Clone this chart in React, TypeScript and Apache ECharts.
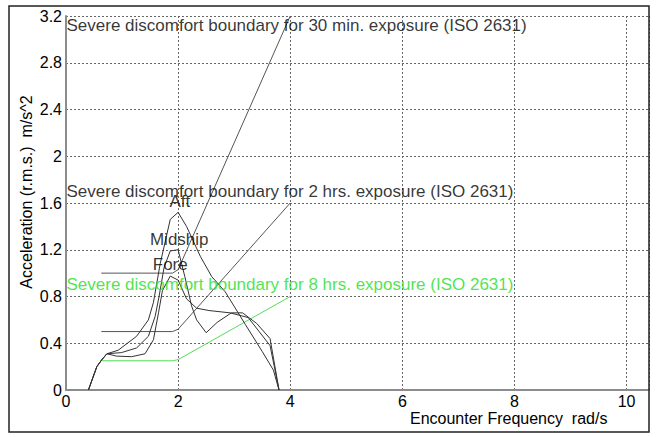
import React, { useEffect, useRef } from "react";
import * as echarts from "echarts";

// Response curves (x: encounter frequency rad/s, y: acceleration r.m.s. m/s^2)
const fore: [number, number][] = [
  [0.4, 0], [0.55, 0.2], [0.64, 0.26], [0.73, 0.31], [0.9, 0.29], [1.17, 0.285],
  [1.41, 0.31], [1.56, 0.43], [1.65, 0.66], [1.72, 0.85], [1.86, 0.975], [2.0, 0.94],
  [2.15, 0.78], [2.33, 0.7], [2.55, 0.68], [2.93, 0.66], [3.25, 0.62], [3.64, 0.38], [3.8, 0],
];
const midship: [number, number][] = [
  [0.4, 0], [0.55, 0.2], [0.64, 0.26], [0.73, 0.31], [0.99, 0.32], [1.26, 0.36],
  [1.47, 0.46], [1.59, 0.63], [1.66, 0.8], [1.75, 1.05], [1.86, 1.19], [2.0, 1.2],
  [2.12, 0.97], [2.24, 0.72], [2.33, 0.6], [2.5, 0.49], [2.7, 0.58], [2.95, 0.66],
  [3.15, 0.66], [3.4, 0.57], [3.64, 0.44], [3.8, 0],
];
const aft: [number, number][] = [
  [0.4, 0], [0.55, 0.2], [0.64, 0.26], [0.73, 0.31], [0.93, 0.34], [1.26, 0.46],
  [1.47, 0.6], [1.56, 0.75], [1.68, 1.08], [1.86, 1.46], [2.0, 1.52], [2.15, 1.4],
  [2.4, 1.14], [2.6, 0.97], [2.84, 0.84], [3.2, 0.56], [3.5, 0.33], [3.7, 0.17], [3.8, 0],
];

// ISO 2631 severe discomfort boundaries
const boundary30min: [number, number][] = [[0.63, 1.0], [1.9, 1.0], [2.0, 1.03], [4.0, 3.2]];
const boundary2hrs: [number, number][] = [[0.63, 0.5], [1.9, 0.5], [2.0, 0.52], [4.0, 1.6]];
const boundary8hrs: [number, number][] = [[0.63, 0.25], [1.9, 0.25], [2.0, 0.26], [4.0, 0.8]];

// Annotations
const annotationTexts = [
  "Severe discomfort boundary for 30 min. exposure (ISO 2631)",
  "Severe discomfort boundary for 2 hrs. exposure (ISO 2631)",
  "Severe discomfort boundary for 8 hrs. exposure (ISO 2631)",
  "Aft",
  "Midship",
  "Fore",
];
const annotationX = [0, 0, 0, 2.03, 2.02, 1.86];
const annotationY = [3.12, 1.7, 0.9, 1.61, 1.29, 1.07];
const annotationColors = ["#000000", "#000000", "#22dd22", "#000000", "#000000", "#000000"];
const annotationAnchors = ["left", "left", "left", "center", "center", "center"];

const xTitle = "Encounter Frequency  rad/s";
const yTitle = "Acceleration (r.m.s.)  m/s^2";

const FONT = "'Liberation Sans', Arial, sans-serif";

export default function App() {
  const ref = useRef<HTMLDivElement>(null);

  useEffect(() => {
    if (!ref.current) return;
    const chart = echarts.init(ref.current, null, { renderer: "svg" });

    const annotationData = annotationTexts.map((t, i) => ({
      value: [annotationX[i], annotationY[i]],
      name: t,
      label: {
        show: true,
        formatter: t,
        color: annotationColors[i],
        position: annotationAnchors[i] === "left" ? "right" : "inside",
        distance: 0,
        fontSize: 17,
        fontFamily: FONT,
      },
    }));

    const lineStyleSeries = (name: string, data: [number, number][], color: string) => ({
      name,
      type: "line",
      data,
      symbol: "none",
      lineStyle: { color, width: 1 },
      z: 3,
    });

    chart.setOption({
      animation: false,
      backgroundColor: "#ffffff",
      grid: { left: 66, right: 9, top: 16, bottom: 47, outerBoundsMode: "none" },
      xAxis: {
        type: "value",
        min: 0,
        max: 10.4,
        interval: 2,
        axisLine: { show: true, lineStyle: { color: "#8c8c8c", width: 2 } },
        axisTick: { show: false },
        axisLabel: {
          color: "#000",
          fontSize: 16,
          fontFamily: FONT,
          margin: 3,
          lineHeight: 16,
          showMaxLabel: false,
        },
        splitLine: { show: true, lineStyle: { color: "#666", type: [2, 2], width: 1 } },
      },
      yAxis: {
        type: "value",
        min: 0,
        max: 3.2,
        interval: 0.4,
        axisLine: { show: true, lineStyle: { color: "#8c8c8c", width: 2 } },
        axisTick: { show: false },
        axisLabel: { color: "#000", fontSize: 16, fontFamily: FONT, margin: 4 },
        splitLine: { show: true, lineStyle: { color: "#666", type: [2, 2], width: 1 } },
      },
      series: [
        lineStyleSeries("30 min", boundary30min, "#555555"),
        lineStyleSeries("2 hrs", boundary2hrs, "#555555"),
        lineStyleSeries("8 hrs", boundary8hrs, "#55dd55"),
        lineStyleSeries("Fore", fore, "#333333"),
        lineStyleSeries("Midship", midship, "#333333"),
        lineStyleSeries("Aft", aft, "#333333"),
        {
          name: "annotations",
          type: "scatter",
          symbolSize: 1,
          itemStyle: { color: "rgba(0,0,0,0)" },
          data: annotationData,
          z: 5,
        },
      ],
      graphic: [
        {
          type: "rect",
          shape: { x: 9, y: 6, width: 640, height: 426 },
          style: { fill: "none", stroke: "#222", lineWidth: 1.5 },
          z: 10,
        },
        {
          type: "text",
          x: 410,
          y: 418,
          style: {
            text: xTitle,
            fill: "#000",
            font: `16px ${FONT}`,
            textAlign: "left",
            textVerticalAlign: "middle",
          },
        },
        {
          type: "text",
          x: 26,
          y: 192,
          rotation: Math.PI / 2,
          style: {
            text: yTitle,
            fill: "#000",
            font: `16px ${FONT}`,
            textAlign: "center",
            textVerticalAlign: "middle",
          },
        },
      ],
    });

    return () => chart.dispose();
  }, []);

  return (
    <div
      ref={ref}
      style={{ position: "fixed", left: 0, top: 0, width: 658, height: 437, background: "#fff" }}
    />
  );
}
